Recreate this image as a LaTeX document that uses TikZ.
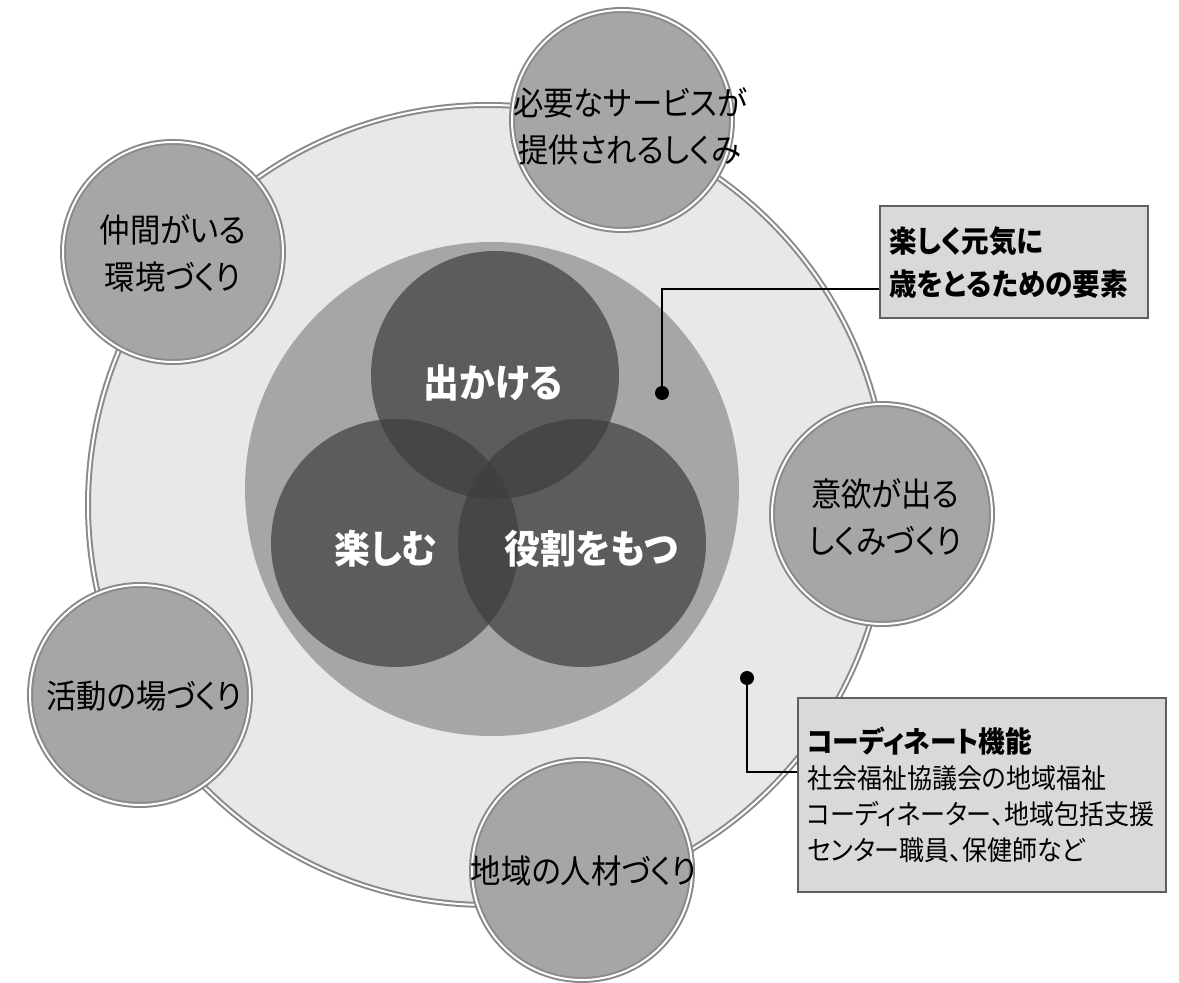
\documentclass[tikz,border=0pt]{standalone}
\usepackage{fontspec}
\setmainfont{Noto Sans CJK JP}[RawFeature=+palt, FakeStretch=0.92]
\usetikzlibrary{calc}
\definecolor{outerfill}{HTML}{E8E8E8}
\definecolor{midfill}{HTML}{A6A6A6}
\definecolor{ringgray}{HTML}{8A8A8A}
\definecolor{darkc}{HTML}{3E3E3E}
\definecolor{boxfill}{HTML}{D9D9D9}
\definecolor{boxdraw}{HTML}{5F5F5F}
\tikzset{
  x=0.5pt, y=-0.5pt,
  ringed/.style={circle, inner sep=0pt, draw=ringgray, double=white, double distance=1pt, line width=1pt},
  bigc/.style={ringed, minimum size=400pt, fill=outerfill},
  smallc/.style={ringed, minimum size=110pt, fill=midfill},
  smalltext/.style={align=center, inner sep=0pt, font=\fontsize{16.5}{23.5}\selectfont, text=black},
  midc/.style={circle, inner sep=0pt, minimum size=247pt, fill=midfill},
  darkcirc/.style={circle, inner sep=0pt, minimum size=124pt, fill=darkc, fill opacity=0.7},
  darklabel/.style={text=white, font=\fontsize{19.5}{22}\selectfont\bfseries},
  calloutbox/.style={rectangle, anchor=north west, fill=boxfill, draw=boxdraw, line width=1.2pt, align=left, inner xsep=4.5pt},
  dotn/.style={circle, fill=black, inner sep=0pt, minimum size=7pt},
  leader/.style={draw=black, line width=1pt}
}
\begin{document}
\begin{tikzpicture}
\useasboundingbox (0,0) rectangle (1179,983);
% outer ring
\node[bigc] (outer) at (488,505) {};
% middle disk
\node[midc] (mid) at (492,489) {};
% three overlapping circles
\node[darkcirc] (cgo) at (495,375) {};
\node[darkcirc] (cfun) at (395,543) {};
\node[darkcirc] (crole) at (582,543) {};
\node[darklabel] (tgo) at (493,383) {出かける};
\node[darklabel] (tfun) at (386,549) {楽しむ};
\node[darklabel] (trole) at (591,549) {役割をもつ};
% satellite circles
\node[smallc] (s1) at (622,120) {};
\node[smallc] (s2) at (173,252) {};
\node[smallc] (s3) at (882,514) {};
\node[smallc] (s4) at (140,695) {};
\node[smallc] (s5) at (582,870) {};
\node[smalltext] (t1) at (630,126) {必要なサービスが\\提供されるしくみ};
\node[smalltext] (t2) at (173,253) {仲間がいる\\環境づくり};
\node[smalltext] (t3) at (885,517) {意欲が出る\\しくみづくり};
\node[smalltext] (t4) at (144,696) {活動の場づくり};
\node[smalltext] (t5) at (584,871) {地域の人材づくり};
% callout 1
\node[calloutbox, minimum width=134pt, minimum height=56pt, text width=125pt,
      font=\fontsize{15}{21.5}\selectfont\bfseries] (box1) at (879,205)
      {楽しく元気に\\歳をとるための要素};
\node[dotn] (d1) at (662,393) {};
\draw[leader] (d1.center) |- ($(box1.south west)+(0,-30)$);
% callout 2
\node[calloutbox, minimum width=184pt, minimum height=97pt, text width=175pt,
      font=\fontsize{13.6}{18}\selectfont] (box2) at (797,697)
      {{\fontsize{14.5}{18}\selectfont\bfseries コーディネート機能}\\社会福祉協議会の地域福祉\\コーディネーター、地域包括支援\\センター職員、保健師など};
\node[dotn] (d2) at (747,678) {};
\draw[leader] (d2.center) |- ($(box2.south west)+(0,-121)$);
\end{tikzpicture}
\end{document}
